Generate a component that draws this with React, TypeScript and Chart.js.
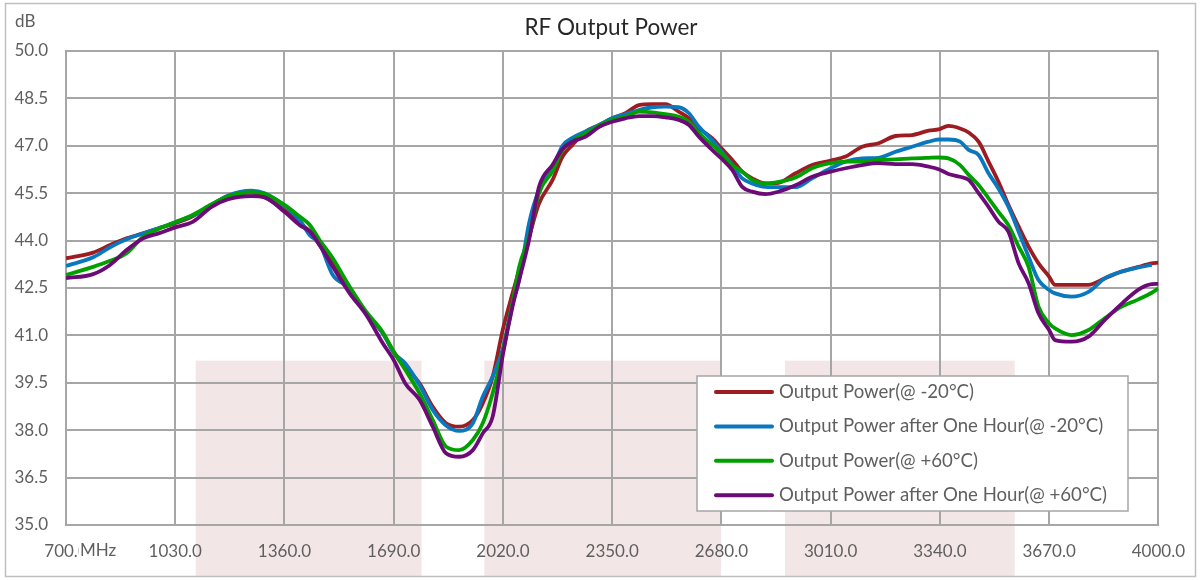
import React, { useEffect, useRef } from "react";
import { Chart, registerables } from "chart.js";

Chart.register(...registerables);

const frequencies = [
  700, 782, 833, 883, 933, 980, 1030, 1084, 1140, 1190,
  1260, 1300, 1360, 1406, 1436, 1466, 1506, 1557, 1607, 1657,
  1690, 1725, 1768, 1808, 1848, 1888, 1929, 1959, 1989,
  2020, 2049, 2069, 2099, 2129, 2170, 2200, 2230, 2270,
  2311, 2350, 2390, 2431, 2471, 2511, 2551, 2582, 2612, 2652,
  2680, 2713, 2743, 2773, 2813, 2853, 2904, 2954,
  3010, 3055, 3105, 3155, 3206, 3256, 3306, 3336,
  3366, 3401, 3427, 3457, 3487, 3517, 3547, 3578, 3608, 3638,
  3670, 3688, 3738, 3789, 3839, 3889, 3940, 3980, 4000,
];

const powerMinus20 = [
  43.44, 43.62, 43.86, 44.07, 44.23, 44.39, 44.55, 44.78, 45.13, 45.41,
  45.52, 45.37, 44.97, 44.55, 44.3, 43.86, 43.28, 42.44, 41.7, 41.07,
  40.48, 40.01, 39.48, 38.74, 38.22, 38.11, 38.32, 38.85, 39.69,
  41.2, 42.33, 43.07, 44.12, 45.17, 45.92, 46.66, 47.03, 47.45,
  47.66, 47.87, 48.03, 48.29, 48.32, 48.32, 48.08, 47.87, 47.55, 47.24,
  46.92, 46.55, 46.18, 45.97, 45.81, 45.83, 46.13, 46.39,
  46.53, 46.66, 46.97, 47.08, 47.31, 47.34, 47.48, 47.52,
  47.63, 47.55, 47.42, 47.13, 46.5, 45.86, 45.13, 44.44, 43.81, 43.28,
  42.86, 42.6, 42.6, 42.6, 42.81, 43.02, 43.17, 43.28, 43.3,
];

const powerMinus20AfterHour = [
  43.2, 43.47, 43.79, 44.04, 44.23, 44.39, 44.58, 44.8, 45.13, 45.43,
  45.58, 45.5, 45.1, 44.65, 44.18, 43.9, 42.91, 42.49, 41.7, 41.07,
  40.45, 40.11, 39.43, 38.64, 38.15, 37.98, 38.22, 39.06, 39.7,
  40.6, 42.02, 42.75, 44.55, 45.6, 46.3, 47.0, 47.25, 47.45,
  47.66, 47.87, 48.0, 48.13, 48.22, 48.24, 48.22, 48.03, 47.6, 47.18,
  46.82, 46.39, 45.97, 45.81, 45.7, 45.69, 45.69, 45.97,
  46.29, 46.5, 46.6, 46.62, 46.81, 46.97, 47.13, 47.2,
  47.2, 47.13, 46.87, 46.71, 46.13, 45.65, 45.07, 44.28, 43.49, 42.75,
  42.44, 42.33, 42.23, 42.38, 42.81, 43.02, 43.15, 43.23, null,
];

const powerPlus60 = [
  42.91, 43.17, 43.36, 43.6, 44.12, 44.37, 44.58, 44.82, 45.15, 45.4,
  45.53, 45.48, 45.13, 44.76, 44.5, 44.02, 43.44, 42.54, 41.75, 41.1,
  40.48, 39.91, 39.17, 38.32, 37.48, 37.37, 37.69, 38.22, 39.17,
  40.5, 42.02, 43.17, 44.12, 45.5, 46.2, 46.87, 47.15, 47.4,
  47.64, 47.82, 47.92, 48.08, 48.06, 48.0, 47.92, 47.76, 47.4, 47.03,
  46.76, 46.39, 46.18, 45.92, 45.81, 45.86, 46.0, 46.29,
  46.45, 46.5, 46.5, 46.55, 46.57, 46.6, 46.62, 46.63,
  46.6, 46.39, 46.08, 45.76, 45.34, 44.91, 44.49, 43.81, 43.17, 41.91,
  41.38, 41.22, 41.01, 41.17, 41.55, 41.91, 42.14, 42.35, 42.49,
];

const powerPlus60AfterHour = [
  42.81, 42.94, 43.23, 43.7, 44.07, 44.23, 44.42, 44.6, 45.07, 45.31,
  45.41, 45.37, 44.91, 44.49, 44.3, 43.86, 43.17, 42.33, 41.65, 40.75,
  40.22, 39.48, 38.96, 38.11, 37.27, 37.16, 37.37, 37.9, 38.43,
  40.4, 41.91, 42.75, 44.02, 45.7, 46.4, 46.9, 47.13, 47.29,
  47.6, 47.76, 47.87, 47.94, 47.94, 47.9, 47.82, 47.66, 47.29, 46.87,
  46.6, 46.23, 45.7, 45.55, 45.47, 45.55, 45.75, 46.02,
  46.18, 46.29, 46.39, 46.45, 46.42, 46.42, 46.34, 46.26,
  46.11, 46.02, 45.92, 45.5, 45.07, 44.6, 44.28, 43.28, 42.65, 41.7,
  41.17, 40.85, 40.8, 40.96, 41.5, 42.0, 42.45, 42.62, 42.63,
];

const seriesLabels = [
  "Output Power(@ -20°C)",
  "Output Power after One Hour(@ -20°C)",
  "Output Power(@ +60°C)",
  "Output Power after One Hour(@ +60°C)",
];
const seriesColors = ["#9c1c22", "#0a78be", "#00a000", "#6c0a78"];

const xTickValues = [700, 1030, 1360, 1690, 2020, 2350, 2680, 3010, 3340, 3670, 4000];
const yTickValues = [35, 36.5, 38, 39.5, 41, 42.5, 44, 45.5, 47, 48.5, 50];

const shadeBands = [
  [1092, 1774],
  [1964, 2679],
  [2872, 3566],
];
const shadeTopValue = 40.2;

const FONT = "Lato, 'Noto Sans', sans-serif";
const GRID = "#a6a6a6";
const TEXT = "#5f5f5f";

const decorPlugin = {
  id: "decor",
  beforeDraw(chart: any) {
    const { ctx, scales } = chart;
    const xs = scales.x;
    const ys = scales.y;
    ctx.save();
    ctx.fillStyle = "#ffffff";
    ctx.fillRect(0, 0, chart.width, chart.height);
    ctx.fillStyle = "#f3e6e7";
    const top = ys.getPixelForValue(shadeTopValue);
    for (const [a, b] of shadeBands) {
      const x0 = xs.getPixelForValue(a);
      const x1 = xs.getPixelForValue(b);
      ctx.fillRect(x0, top, x1 - x0, chart.height - 4 - top);
    }
    ctx.strokeStyle = "#bfbfbf";
    ctx.lineWidth = 1.5;
    ctx.strokeRect(5.5, 3.5, chart.width - 11, chart.height - 7);
    ctx.restore();
  },
  afterDraw(chart: any) {
    const { ctx } = chart;
    ctx.save();
    // title
    ctx.fillStyle = "#262626";
    ctx.font = `22.5px ${FONT}`;
    ctx.textAlign = "center";
    ctx.textBaseline = "middle";
    ctx.fillText("RF Output Power", 611, 28);
    // axis units
    ctx.fillStyle = TEXT;
    ctx.font = `17px ${FONT}`;
    ctx.textAlign = "left";
    ctx.fillText("dB", 15, 22);
    ctx.fillStyle = "#ffffff";
    ctx.fillRect(78.5, 538, 42, 26);
    ctx.fillStyle = TEXT;
    ctx.fillText("MHz", 80, 551);
    // legend
    const lx = 697, ly = 376, lw = 431, lh = 135;
    ctx.fillStyle = "#ffffff";
    ctx.fillRect(lx, ly, lw, lh);
    ctx.strokeStyle = "#a6a6a6";
    ctx.lineWidth = 1.5;
    ctx.strokeRect(lx, ly, lw, lh);
    chart.data.datasets.forEach((ds: any, i: number) => {
      const cy = 392 + i * 34.4;
      ctx.strokeStyle = ds.borderColor;
      ctx.lineWidth = 4;
      ctx.lineCap = "round";
      ctx.beginPath();
      ctx.moveTo(716, cy);
      ctx.lineTo(772, cy);
      ctx.stroke();
      ctx.fillStyle = TEXT;
      ctx.font = `18.6px ${FONT}`;
      ctx.textAlign = "left";
      ctx.textBaseline = "middle";
      ctx.fillText(ds.label, 779, cy);
    });
    ctx.restore();
  },
};

export default function App() {
  const canvasRef = useRef<HTMLCanvasElement | null>(null);

  useEffect(() => {
    if (!canvasRef.current) return;
    const seriesValues = [powerMinus20, powerMinus20AfterHour, powerPlus60, powerPlus60AfterHour];
    const chart = new Chart(canvasRef.current, {
      type: "line",
      data: {
        datasets: seriesValues.map((vals, i) => ({
          label: seriesLabels[i],
          data: frequencies.map((f, j) => ({ x: f, y: vals[j] })),
          borderColor: seriesColors[i],
          backgroundColor: seriesColors[i],
          borderWidth: 3.8,
          pointRadius: 0,
          tension: 0.35,
          cubicInterpolationMode: "monotone" as const,
          order: 4 - i,
          spanGaps: false,
        })),
      },
      options: {
        responsive: false,
        animation: false,
        layout: { padding: { top: 51, right: 41, left: 0, bottom: 0 } },
        plugins: {
          legend: { display: false },
          title: { display: false },
          tooltip: { enabled: false },
        },
        scales: {
          x: {
            type: "linear",
            min: 700,
            max: 4000,
            afterFit: (s: any) => {
              s.height = 55;
            },
            afterBuildTicks: (s: any) => {
              s.ticks = xTickValues.map((v) => ({ value: v }));
            },
            grid: { color: GRID, lineWidth: 2, drawTicks: false },
            border: { color: GRID, width: 2 },
            ticks: {
              color: TEXT,
              font: { family: FONT, size: 17 },
              padding: 16,
              maxRotation: 0,
              autoSkip: false,
              callback: (v: any) => Number(v).toFixed(1),
            },
          },
          y: {
            type: "linear",
            min: 35,
            max: 50,
            afterFit: (s: any) => {
              s.width = 66;
            },
            afterBuildTicks: (s: any) => {
              s.ticks = yTickValues.map((v) => ({ value: v }));
            },
            grid: { color: GRID, lineWidth: 2, drawTicks: false },
            border: { color: GRID, width: 2 },
            ticks: {
              color: TEXT,
              font: { family: FONT, size: 17 },
              padding: 18,
              autoSkip: false,
              callback: (v: any) => Number(v).toFixed(1),
            },
          },
        },
      },
      plugins: [decorPlugin],
    });
    return () => chart.destroy();
  }, []);

  return (
    <div style={{ position: "fixed", left: 0, top: 0, width: 1201, height: 580, background: "#fff" }}>
      <canvas ref={canvasRef} width={1201} height={580} style={{ display: "block" }} />
    </div>
  );
}
